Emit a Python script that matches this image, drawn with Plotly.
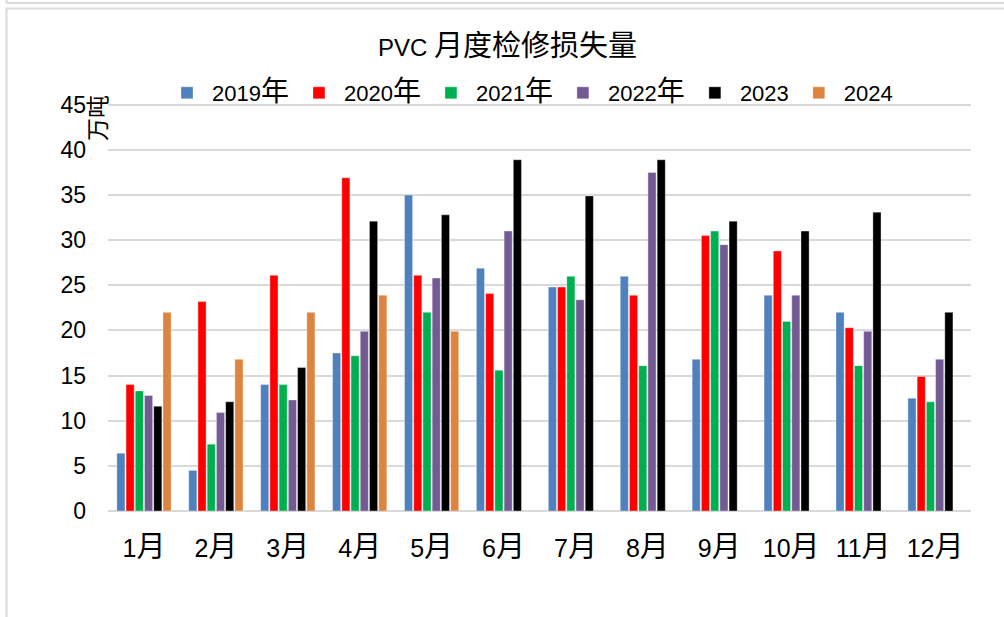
import plotly.graph_objects as go

months = ["1月", "2月", "3月", "4月", "5月", "6月", "7月", "8月", "9月", "10月", "11月", "12月"]
series_names = ["2019年", "2020年", "2021年", "2022年", "2023", "2024"]
colors = ["#4f81bd", "#ff0000", "#00b050", "#735a93", "#000000", "#dd8540"]

v2019 = [6.4, 4.5, 14.0, 17.5, 35.0, 26.9, 24.8, 26.0, 16.8, 23.9, 22.0, 12.5]
v2020 = [14.0, 23.2, 26.1, 36.9, 26.1, 24.1, 24.8, 23.9, 30.5, 28.8, 20.3, 14.9]
v2021 = [13.3, 7.4, 14.0, 17.2, 22.0, 15.6, 26.0, 16.1, 31.0, 21.0, 16.1, 12.1]
v2022 = [12.8, 10.9, 12.3, 19.9, 25.8, 31.0, 23.4, 37.5, 29.5, 23.9, 19.9, 16.8]
v2023 = [11.6, 12.1, 15.9, 32.1, 32.8, 38.9, 34.9, 38.9, 32.1, 31.0, 33.1, 22.0]
v2024 = [22.0, 16.8, 22.0, 23.9, 19.9, None, None, None, None, None, None, None]
all_values = [v2019, v2020, v2021, v2022, v2023, v2024]

FONT = "Liberation Sans, Noto Sans CJK SC, sans-serif"
CJK = "Noto Sans CJK SC"


def big_cjk(s, size):
    """Wrap CJK characters in a span with a larger font size (Excel-style rendering)."""
    out = ""
    buf = ""
    for ch in s:
        if ord(ch) > 0x2E80:
            buf += ch
        else:
            if buf:
                out += f"<span style='font-size:{size}px;font-family:{CJK}'>{buf}</span>"
                buf = ""
            out += ch
    if buf:
        out += f"<span style='font-size:{size}px;font-family:{CJK}'>{buf}</span>"
    return out


fig = go.Figure()
for name, vals, col in zip(series_names, all_values, colors):
    fig.add_trace(go.Bar(
        x=months, y=vals, name=big_cjk(name, 28),
        marker=dict(color=col, line=dict(color="rgba(255,255,255,0.6)", width=0.6)),
    ))

W, H = 1004, 617
YMAX = 45.3
L, R, T, B = 108, 33, 102, 106
pw = W - L - R
ph = H - T - B

def px(x):
    return (x - L) / pw

def py(y):
    return (H - B - y) / ph

border = dict(color="#d9d9d9", width=2)
shapes = [
    dict(type="line", xref="paper", yref="paper", x0=px(6), x1=px(1004), y0=py(8.5), y1=py(8.5), line=border),
    dict(type="line", xref="paper", yref="paper", x0=px(6.5), x1=px(6.5), y0=py(8.5), y1=py(617), line=border),
    dict(type="line", xref="paper", yref="paper", x0=px(7), x1=px(1004), y0=py(3), y1=py(3), line=border),
    dict(type="line", xref="paper", yref="paper", x0=px(6.5), x1=px(6.5), y0=py(0), y1=py(3), line=border),
]

fig.update_layout(
    width=W, height=H,
    margin=dict(l=L, r=R, t=T, b=B, pad=0, autoexpand=False),
    paper_bgcolor="white", plot_bgcolor="white",
    font=dict(family=FONT, color="#000000"),
    barmode="group", bargap=0.23, bargroupgap=0.12,
    title=dict(text=big_cjk("PVC 月度检修损失量", 29), x=(507.5 - 0) / W, xanchor="center",
               y=(H - 48) / H, yanchor="middle",
               font=dict(size=24, family=FONT, color="#000000")),
    legend=dict(orientation="h", x=px(162), xanchor="left", y=py(93), yanchor="middle",
                itemwidth=40,
                font=dict(size=22, family=FONT), bgcolor="rgba(0,0,0,0)", traceorder="normal"),
    showlegend=True,
    shapes=shapes,
    annotations=[dict(text="万吨", xref="paper", yref="paper", x=px(96), y=py(118), xanchor="center",
                      yanchor="middle", textangle=-90, showarrow=False,
                      font=dict(size=23, family=CJK, color="#000000"))],
)
fig.update_yaxes(range=[0, YMAX], dtick=5, showgrid=True, gridcolor="#d9d9d9", gridwidth=2,
                 zeroline=True, zerolinecolor="#d9d9d9", zerolinewidth=2, showline=False,
                 tickfont=dict(size=23, family=FONT), ticklabelstandoff=21, fixedrange=True)
fig.update_xaxes(showgrid=False, showline=False, tickfont=dict(size=25, family=FONT),
                 tickmode="array", tickvals=months, ticktext=[big_cjk(m, 29) for m in months],
                 ticklabelstandoff=20, fixedrange=True)

fig.write_html("out.html", config={"displayModeBar": False},
               post_script="document.body.style.margin='0';document.body.style.overflow='hidden';")
